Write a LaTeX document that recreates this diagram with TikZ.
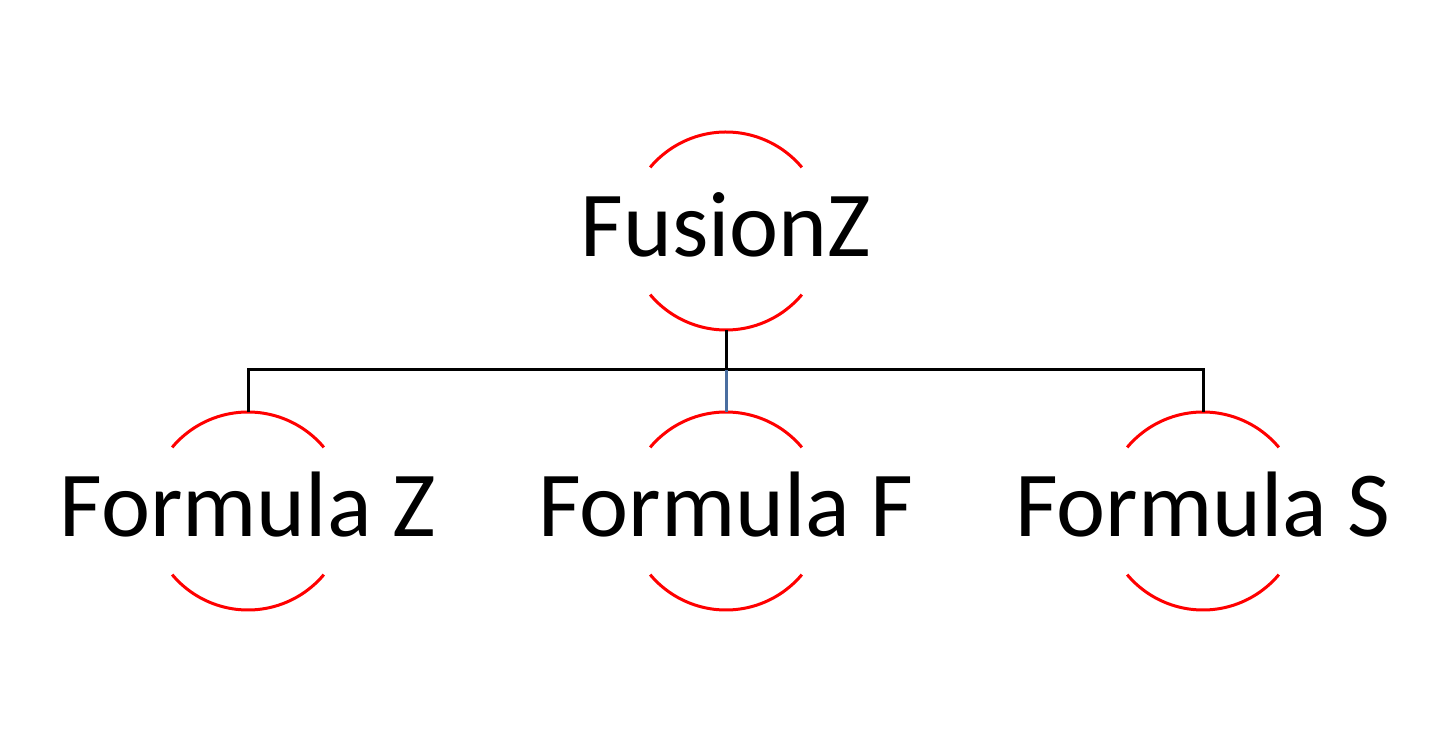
\documentclass[tikz,border=0pt]{standalone}
\usepackage{fontspec}
\setmainfont{Carlito}
\definecolor{linkblue}{RGB}{74,110,160}
\tikzset{
    ring/.style={
        circle,
        minimum size=198pt,
        inner sep=0pt,
        outer sep=0pt
    },
    ring arc/.style={
        red,
        line width=3pt
    },
    title/.style={
        anchor=base,
        inner sep=0pt,
        font=\fontsize{93}{110}\selectfont
    },
    link/.style={
        black,
        line width=3pt
    }
}
\begin{document}
\begin{tikzpicture}[x=1pt,y=1pt]
\useasboundingbox (0,0) rectangle (1451,742);
\node[ring] (fusion) at (726,511) {};
\node[ring] (formz) at (248,231) {};
\node[ring] (formf) at (726,231) {};
\node[ring] (forms) at (1203,231) {};
\node[title] (fusiontxt) at ([yshift=-26pt]fusion.center) {FusionZ};
\node[title] (formztxt) at ([yshift=-26pt]formz.center) {Formula Z};
\node[title] (formftxt) at ([yshift=-26pt]formf.center) {Formula F};
\node[title] (formstxt) at ([yshift=-26pt]forms.center) {Formula S};
% broken circles
\foreach \n in {fusion,formz,formf,forms}{
    \draw[ring arc] (\n.40) arc[start angle=40,end angle=140,radius=99pt];
    \draw[ring arc] (\n.220) arc[start angle=220,end angle=320,radius=99pt];
}
\coordinate (bar) at (726,372);
\draw[link] (fusion.south) -- (bar);
\draw[link] (formz.north) -- (formz.north |- bar) -- (forms.north |- bar) -- (forms.north);
\draw[link,linkblue] (bar) -- (formf.north);
\end{tikzpicture}
\end{document}
